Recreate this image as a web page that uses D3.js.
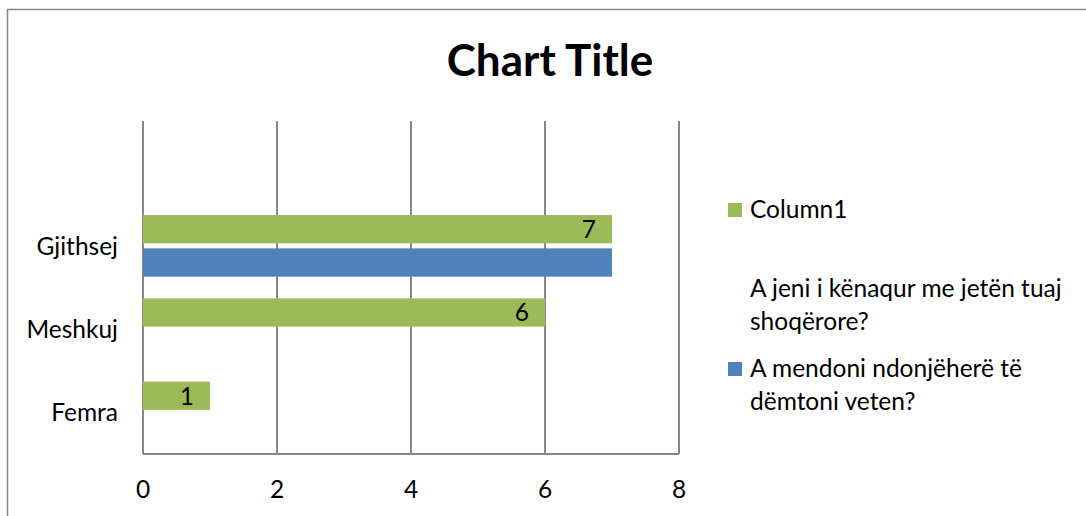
<!DOCTYPE html>
<html>
<head>
<meta charset="utf-8">
<script src="https://cdn.jsdelivr.net/npm/d3@7"></script>
<style>
  html, body { margin: 0; padding: 0; background: #ffffff; }
  svg { display: block; font-family: Lato, 'Open Sans', sans-serif; }
</style>
</head>
<body>
<div id="chart"></div>
<script>
// ----------------------------------------------------------------------------
// Data (Excel order: bottom category first)
// ----------------------------------------------------------------------------
const categories = ['Femra', 'Meshkuj', 'Gjithsej', '']
const column1    = [1, 6, 7, null]
const aJeni      = [null, null, null, null]
const aMendoni   = [null, null, 7, null]
const xTicks     = [0, 2, 4, 6, 8]

const seriesNames = [
  'Column1',
  'A jeni i kënaqur me jetën tuaj shoqërore?',
  'A mendoni ndonjëherë të dëmtoni veten?'
]
const seriesColors = ['#9BBB59', 'none', '#4F81BD']

// ----------------------------------------------------------------------------
// Layout
// ----------------------------------------------------------------------------
const width = 1086, height = 516
const plot = { left: 143, right: 679, top: 121, bottom: 454 }
const gridColor = '#878787'
const labelSize = '24.5px'

const svg = d3.select('#chart').append('svg')
  .attr('width', width)
  .attr('height', height)

// Chart area border (left and top edges visible)
svg.append('path')
  .attr('d', 'M7.5,' + height + ' V9.5 H' + width)
  .attr('fill', 'none')
  .attr('stroke', gridColor)
  .attr('stroke-width', 1.5)

// Scales
const x = d3.scaleLinear()
  .domain([0, 8])
  .range([plot.left, plot.right])

const y = d3.scaleBand()
  .domain(categories.slice().reverse())
  .range([plot.top, plot.bottom])

// Only the two filled series take a slot inside a category
const yInner = d3.scaleBand()
  .domain([0, 2])
  .range([y.bandwidth() * 0.13, y.bandwidth() * 0.87])
  .paddingInner(0.15)

// Gridlines
svg.append('g')
  .selectAll('line')
  .data(xTicks)
  .join('line')
    .attr('x1', d => x(d))
    .attr('x2', d => x(d))
    .attr('y1', plot.top)
    .attr('y2', plot.bottom)
    .attr('stroke', gridColor)
    .attr('stroke-width', 2)

// Bottom axis line
svg.append('line')
  .attr('x1', plot.left)
  .attr('x2', plot.right)
  .attr('y1', plot.bottom)
  .attr('y2', plot.bottom)
  .attr('stroke', gridColor)
  .attr('stroke-width', 2)

// Bars
const seriesValues = [column1, aJeni, aMendoni]
seriesValues.forEach((vals, si) => {
  if (seriesColors[si] === 'none') return
  const rows = categories.map((c, i) => ({ cat: c, v: vals[i] }))
    .filter(d => d.v != null)

  svg.append('g')
    .selectAll('rect')
    .data(rows)
    .join('rect')
      .attr('x', x(0))
      .attr('y', d => y(d.cat) + yInner(si))
      .attr('width', d => x(d.v) - x(0))
      .attr('height', yInner.bandwidth())
      .attr('fill', seriesColors[si])

  // Data labels only on Column1 (inside end)
  if (si === 0)
    svg.append('g')
      .selectAll('text')
      .data(rows)
      .join('text')
        .attr('x', d => x(d.v) - 16)
        .attr('y', d => y(d.cat) + yInner(si) + yInner.bandwidth() / 2)
        .attr('dy', '0.36em')
        .attr('text-anchor', 'end')
        .style('font-size', labelSize)
        .attr('fill', '#000')
        .text(d => d.v)
})

// Category labels
svg.append('g')
  .selectAll('text')
  .data(categories.filter(c => c !== ''))
  .join('text')
    .attr('x', 118)
    .attr('y', d => y(d) + y.bandwidth() / 2)
    .attr('dy', '0.36em')
    .attr('text-anchor', 'end')
    .style('font-size', labelSize)
    .attr('fill', '#000')
    .text(d => d)

// Value tick labels
svg.append('g')
  .selectAll('text')
  .data(xTicks)
  .join('text')
    .attr('x', d => x(d))
    .attr('y', 498)
    .attr('text-anchor', 'middle')
    .style('font-size', labelSize)
    .attr('fill', '#000')
    .text(d => d)

// Title
svg.append('text')
  .attr('x', 550)
  .attr('y', 76)
  .attr('text-anchor', 'middle')
  .style('font-size', '44px')
  .style('font-weight', 'bold')
  .attr('fill', '#000')
  .text('Chart Title')

// Legend
const legendItems = [
  { lines: ['Column1'], y: 218, color: seriesColors[0] },
  { lines: ['A jeni i kënaqur me jetën tuaj', 'shoqërore?'], y: 297, color: seriesColors[1] },
  { lines: ['A mendoni ndonjëherë të', 'dëmtoni veten?'], y: 377, color: seriesColors[2] }
]

const legend = svg.append('g')
legendItems.forEach(item => {
  if (item.color !== 'none')
    legend.append('rect')
      .attr('x', 728)
      .attr('y', item.y - 15)
      .attr('width', 14)
      .attr('height', 14)
      .attr('fill', item.color)

  legend.append('text')
    .attr('x', 750)
    .attr('y', item.y)
    .style('font-size', labelSize)
    .attr('fill', '#000')
    .selectAll('tspan')
    .data(item.lines)
    .join('tspan')
      .attr('x', 750)
      .attr('dy', (d, i) => i === 0 ? 0 : 33)
      .text(d => d)
})
</script>
</body>
</html>
